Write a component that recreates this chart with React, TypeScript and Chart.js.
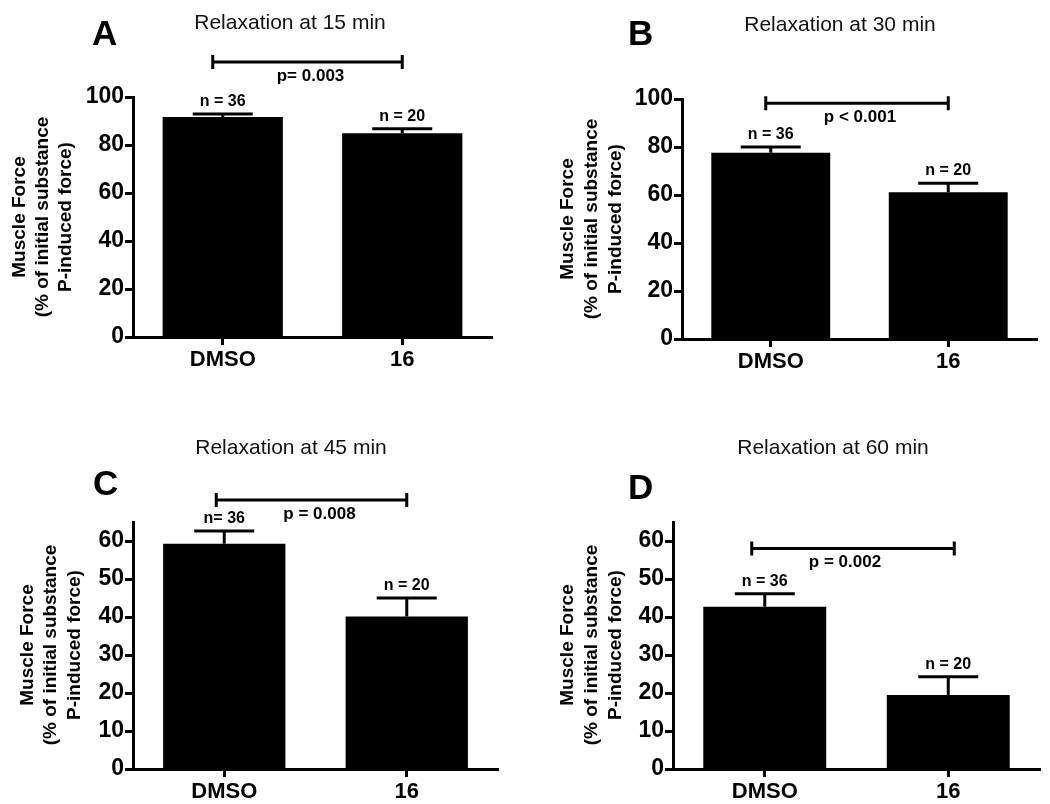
import React, { useEffect, useRef } from 'react';
import { Chart, registerables } from 'chart.js';

Chart.register(...registerables);

// ---------- DATA ----------
const categories = ['DMSO', '16'];
const letters = ['A', 'B', 'C', 'D'];
const titles = ['Relaxation at 15 min', 'Relaxation at 30 min', 'Relaxation at 45 min', 'Relaxation at 60 min'];

const means15 = [91.7, 84.9];
const sem15 = [1.2, 1.9];
const means30 = [77.6, 61.1];
const sem30 = [2.4, 3.8];
const means45 = [59.3, 40.1];
const sem45 = [3.3, 4.9];
const means60 = [42.7, 19.5];
const sem60 = [3.4, 4.8];

const nLabels15 = ['n = 36', 'n = 20'];
const nLabels30 = ['n = 36', 'n = 20'];
const nLabels45 = ['n= 36', 'n = 20'];
const nLabels60 = ['n = 36', 'n = 20'];

const pLabels = ['p= 0.003', 'p < 0.001', 'p = 0.008', 'p = 0.002'];
const bracketLevels = [114.6, 98.2, 70.8, 58.0];

const yTicks100 = [0, 20, 40, 60, 80, 100];
const yTicks60 = [0, 10, 20, 30, 40, 50, 60];
const yMaxes = [100, 100, 65, 65];

const yTitleLines = ['Muscle Force', '(% of initial substance', 'P-induced force)'];

const panels = [
  { means: means15, sem: sem15, n: nLabels15, ticks: yTicks100 },
  { means: means30, sem: sem30, n: nLabels30, ticks: yTicks100 },
  { means: means45, sem: sem45, n: nLabels45, ticks: yTicks60 },
  { means: means60, sem: sem60, n: nLabels60, ticks: yTicks60 },
];

// ---------- LAYOUT / STYLE ----------
const W = 525;
const H = 402;
const FONT = '"Liberation Sans", Arial, Helvetica, sans-serif';

const layouts = [
  { ox: 0, oy: 0, l: 133, r: 492, t: 97, b: 337, letterX: 92, letterY: 45, titleX: 290, titleY: 29, yTitleX: [20, 43, 66], yTitleY: 217, brL: -10, brR: 0, pDx: 3 },
  { ox: 525, oy: 0, l: 157, r: 512, t: 99, b: 339, letterX: 103, letterY: 45, titleX: 315, titleY: 31, yTitleX: [43, 67, 91], yTitleY: 219, brL: -5, brR: 0, pDx: 3 },
  { ox: 0, oy: 402, l: 133, r: 498, t: 120, b: 367, letterX: 93, letterY: 93, titleX: 291, titleY: 52, yTitleX: [28, 51, 75], yTitleY: 243, brL: -8, brR: 0, pDx: 8 },
  { ox: 525, oy: 402, l: 148, r: 515, t: 120, b: 367, letterX: 103, letterY: 97, titleX: 308, titleY: 52, yTitleX: [43, 67, 91], yTitleY: 243, brL: -13, brR: 6, pDx: -8 },
];

function Panel({ idx }: { idx: number }) {
  const ref = useRef<HTMLCanvasElement>(null);
  const L = layouts[idx];

  useEffect(() => {
    const P = panels[idx];
    const annot = {
      id: 'annot' + idx,
      afterDatasetsDraw(chart: any) {
        const ctx = chart.ctx as CanvasRenderingContext2D;
        const xs = chart.scales.x;
        const ys = chart.scales.y;
        const meta = chart.getDatasetMeta(0);
        ctx.save();
        ctx.strokeStyle = '#000';
        ctx.fillStyle = '#000';
        ctx.lineWidth = 3;
        ctx.lineCap = 'butt';

        // error bars + n labels
        P.means.forEach((m: number, i: number) => {
          const x = meta.data[i].x;
          const y0 = ys.getPixelForValue(m);
          const y1 = ys.getPixelForValue(m + P.sem[i]);
          ctx.beginPath();
          ctx.moveTo(x, y0);
          ctx.lineTo(x, y1);
          ctx.moveTo(x - 30, y1);
          ctx.lineTo(x + 30, y1);
          ctx.stroke();
          ctx.font = `bold 16px ${FONT}`;
          ctx.textAlign = 'center';
          ctx.textBaseline = 'alphabetic';
          ctx.fillText(P.n[i], x, y1 - 8);
        });

        // significance bracket
        const bx0 = xs.getPixelForValue(0) + L.brL;
        const bx1 = xs.getPixelForValue(1) + L.brR;
        const by = ys.getPixelForValue(bracketLevels[idx]);
        ctx.beginPath();
        ctx.moveTo(bx0, by);
        ctx.lineTo(bx1, by);
        ctx.moveTo(bx0, by - 7);
        ctx.lineTo(bx0, by + 7);
        ctx.moveTo(bx1, by - 7);
        ctx.lineTo(bx1, by + 7);
        ctx.stroke();
        ctx.font = `bold 17px ${FONT}`;
        ctx.textAlign = 'center';
        ctx.textBaseline = 'middle';
        ctx.fillText(pLabels[idx], (bx0 + bx1) / 2 + L.pDx, by + 14);

        // title
        ctx.fillStyle = '#111';
        ctx.font = `21px ${FONT}`;
        ctx.textAlign = 'center';
        ctx.textBaseline = 'alphabetic';
        ctx.fillText(titles[idx], L.titleX, L.titleY);

        // panel letter
        ctx.fillStyle = '#000';
        ctx.font = `bold 35px ${FONT}`;
        ctx.textAlign = 'left';
        ctx.fillText(letters[idx], L.letterX, L.letterY);

        // y-axis title
        ctx.font = `bold 19px ${FONT}`;
        ctx.textAlign = 'center';
        ctx.textBaseline = 'middle';
        yTitleLines.forEach((line, k) => {
          ctx.save();
          ctx.translate(L.yTitleX[k], L.yTitleY);
          ctx.rotate(-Math.PI / 2);
          ctx.fillText(line, 0, 0);
          ctx.restore();
        });
        ctx.restore();
      },
    };

    const axisGrid = {
      display: true,
      drawOnChartArea: false,
      offset: false,
      tickLength: 8,
      tickWidth: 3,
      tickColor: '#000',
      color: '#000',
    };
    const axisBorder = { display: true, color: '#000', width: 3 };

    const chart = new Chart(ref.current as HTMLCanvasElement, {
      type: 'bar',
      data: {
        labels: categories,
        datasets: [
          {
            data: P.means,
            backgroundColor: '#000',
            borderWidth: 0,
            barPercentage: 0.67,
            categoryPercentage: 1,
          },
        ],
      },
      options: {
        responsive: false,
        animation: false,
        devicePixelRatio: 1,
        layout: { padding: { left: 0, top: L.t, right: W - L.r, bottom: 0 } },
        plugins: {
          legend: { display: false },
          tooltip: { enabled: false },
          title: { display: false },
        },
        scales: {
          x: {
            type: 'category',
            offset: true,
            grid: axisGrid,
            border: axisBorder,
            ticks: {
              color: '#000',
              font: { family: FONT, size: 22, weight: 'bold' },
              padding: 2,
              maxRotation: 0,
              minRotation: 0,
            },
            afterFit: (s: any) => {
              s.height = H - L.b;
            },
          },
          y: {
            type: 'linear',
            min: 0,
            max: yMaxes[idx],
            bounds: 'data',
            grid: axisGrid,
            border: axisBorder,
            ticks: {
              color: '#000',
              font: { family: FONT, size: 23, weight: 'bold' },
              padding: 1,
            },
            afterBuildTicks: (s: any) => {
              s.ticks = P.ticks.map((v: number) => ({ value: v }));
            },
            afterFit: (s: any) => {
              s.width = L.l;
            },
          },
        },
      } as any,
      plugins: [annot],
    });
    return () => chart.destroy();
  }, []);

  return (
    <canvas
      ref={ref}
      width={W}
      height={H}
      style={{ position: 'absolute', left: L.ox, top: L.oy, width: W, height: H, display: 'block' }}
    />
  );
}

export default function App() {
  return (
    <div style={{ position: 'absolute', left: 0, top: 0, width: 1050, height: 804, background: '#fff' }}>
      {[0, 1, 2, 3].map((i) => (
        <Panel key={i} idx={i} />
      ))}
    </div>
  );
}
